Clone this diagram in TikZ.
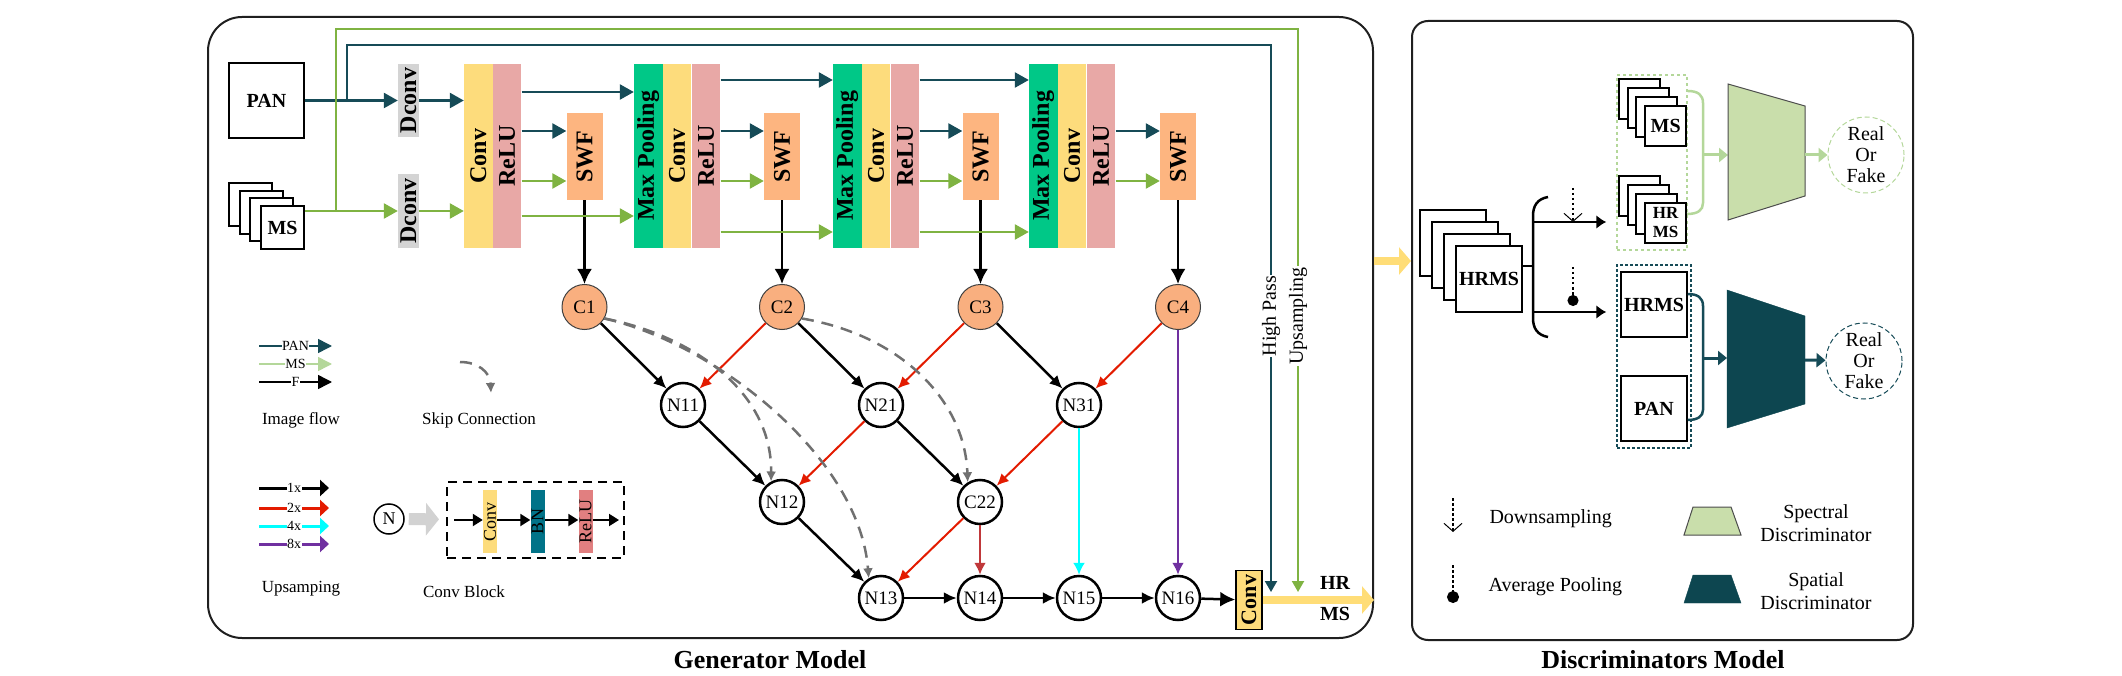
\documentclass[tikz,border=0pt]{standalone}
\usepackage{fontspec}
\setmainfont{Liberation Serif}
\usepackage{graphicx}
\usepackage{tikz}
\usepackage{xcolor}
\usetikzlibrary{arrows.meta, positioning, calc}

\definecolor{panT}{HTML}{164B57}
\definecolor{msG}{HTML}{7FB342}
\definecolor{msL}{HTML}{B4D79A}
\definecolor{convY}{HTML}{FDDC7C}
\definecolor{reluP}{HTML}{E8A8A6}
\definecolor{poolG}{HTML}{00C887}
\definecolor{swfO}{HTML}{FDB580}
\definecolor{cnodeO}{HTML}{F9AF7F}
\definecolor{dconvG}{HTML}{D4D4D4}
\definecolor{bnT}{HTML}{017388}
\definecolor{cbRelu}{HTML}{E17F80}
\definecolor{upRed}{HTML}{E31B00}
\definecolor{upDRed}{HTML}{C0383A}
\definecolor{upCyan}{HTML}{00FFFF}
\definecolor{upPurp}{HTML}{7030A0}
\definecolor{outY}{HTML}{FFDD77}
\definecolor{skipG}{HTML}{707070}
\definecolor{specG}{HTML}{C9DEAB}
\definecolor{spatT}{HTML}{0D4650}

\newcommand{\pxfont}[1]{\fontsize{#1}{#1}\selectfont}

\tikzset{
  frame/.style={draw=black!88, line width=2, inner sep=0},
  title/.style={font={\bfseries\pxfont{26}}},
  sheet/.style={draw, fill=white, line width=2, inner sep=0},
  panflow/.style={panT, line width=2.5, -{Triangle[length=14pt,width=15pt]}},
  msflow/.style={msG, line width=2.5, -{Triangle[length=14pt,width=15pt]}},
  colbox/.style={minimum width=28.5, minimum height=184, inner sep=0, font={\bfseries\pxfont{24}}},
  convcol/.style={colbox, fill=convY},
  relucol/.style={colbox, fill=reluP},
  poolcol/.style={colbox, fill=poolG},
  swfbox/.style={fill=swfO, minimum width=36, minimum height=87, inner sep=0, font={\bfseries\pxfont{24}}},
  dconvbox/.style={fill=dconvG, minimum width=21, inner sep=0, font={\bfseries\pxfont{24}}},
  cnode/.style={circle, draw=black!75, line width=1, fill=cnodeO, minimum size=45, inner sep=0, font=\pxfont{19}},
  nnode/.style={circle, draw, line width=2.5, fill=white, minimum size=44, inner sep=0, font=\pxfont{19}},
  farrow/.style={black, line width=2.5, -{Latex[length=15pt,width=15pt]}},
  fedge/.style={black, line width=2.5, -{Latex[length=13pt,width=12pt]}},
  redge/.style={upRed, line width=2, -{Latex[length=12pt,width=11pt]}},
  skipline/.style={skipG, line width=2.5, dash pattern=on 12pt off 8pt, -{Latex[length=10pt,width=10pt]}},
  yarrow/.style={outY, line width=8, -{Triangle[length=12pt,width=27pt]}},
  vlabel/.style={rotate=90, fill=white, inner sep=1, font=\pxfont{20}},
  legtext/.style={font=\pxfont{17}},
  leglab/.style={fill=white, text=black, inner sep=0.5, font=\pxfont{14}},
  cbcol/.style={minimum width=14, minimum height=63, inner sep=0, font=\pxfont{18}},
  cbarrow/.style={black, line width=2, -{Triangle[length=10pt,width=12pt]}},
  darrow/.style={black, line width=2.5, -{Latex[length=10pt,width=14pt]}},
  dotline/.style={black, line width=1.5, dash pattern=on 2.5pt off 2.5pt},
  rof/.style={circle, line width=1, dash pattern=on 5pt off 3pt, minimum size=76, inner sep=0, align=center, font={\fontsize{20}{21}\selectfont}},
  dtxt/.style={font=\pxfont{20}}
}

\begin{document}
\begin{tikzpicture}[x=1pt, y=-1pt]
\useasboundingbox (0,0) rectangle (2122,676);

% frames and titles
\node[frame, rounded corners=34, minimum width=1165, minimum height=621] (gen) at (790.5,327.5) {};
\node[frame, rounded corners=16, minimum width=501, minimum height=619] (disc) at (1662.5,330.5) {};
\node[title] (genT) at (770,660) {Generator Model};
\node[title] (discT) at (1663,660) {Discriminators Model};

% inputs
\node[sheet, minimum size=75, font={\bfseries\pxfont{20}}] (pan) at (266.5,100.5) {PAN};
\foreach \idx in {0,1,2}
  \node[sheet, minimum size=43] (msS\idx) at ({250.5+10.7*\idx},{204.5+7.7*\idx}) {};
\node[sheet, minimum size=43, font={\bfseries\pxfont{20}}] (ms) at (282.6,227.6) {MS};

\node[dconvbox, minimum height=73] (dconvA) at (408.5,100.5) {\rotatebox{90}{Dconv}};
\node[dconvbox, minimum height=74] (dconvB) at (408.5,211) {\rotatebox{90}{Dconv}};

% encoder blocks
\node[convcol] (conv1) at (478.25,156) {\rotatebox{90}{Conv}};
\node[relucol, right=0pt of conv1] (relu1) {\rotatebox{90}{ReLU}};
\foreach \idx/\x in {2/648.25,3/847.25,4/1043.25} {
  \node[poolcol] (pool\idx) at (\x,156) {\rotatebox{90}{Max Pooling}};
  \node[convcol, right=0pt of pool\idx] (conv\idx) {\rotatebox{90}{Conv}};
  \node[relucol, right=0pt of conv\idx] (relu\idx) {\rotatebox{90}{ReLU}};
}

\coordinate (rowP1) at (0,92);
\coordinate (rowP) at (0,80);
\coordinate (rowPs) at (0,131);
\coordinate (rowMs) at (0,181);
\coordinate (rowM1) at (0,216);
\coordinate (rowM) at (0,232);

% SWF and C nodes
\foreach \idx/\x in {1/584.5,2/782,3/980.5,4/1178} {
  \node[swfbox] (swf\idx) at (\x,156.5) {\rotatebox{90}{SWF}};
  \node[cnode] (c\idx) at (\x,307) {C\idx};
  \draw[farrow] (swf\idx) -- (c\idx);
  \draw[panflow] (relu\idx.east |- rowPs) -- (swf\idx.west |- rowPs);
  \draw[msflow] (relu\idx.east |- rowMs) -- (swf\idx.west |- rowMs);
}

\draw[panflow] (pan.east) -- (dconvA.west);
\draw[msflow] (ms.east |- dconvB) -- (dconvB.west);
\draw[panflow] (dconvA.east) -- (conv1.west |- dconvA);
\draw[msflow] (dconvB.east) -- (conv1.west |- dconvB);
\draw[panflow] (relu1.east |- rowP1) -- (pool2.west |- rowP1);
\draw[msflow] (relu1.east |- rowM1) -- (pool2.west |- rowM1);
\draw[panflow] (relu2.east |- rowP) -- (pool3.west |- rowP);
\draw[msflow] (relu2.east |- rowM) -- (pool3.west |- rowM);
\draw[panflow] (relu3.east |- rowP) -- (pool4.west |- rowP);
\draw[msflow] (relu3.east |- rowM) -- (pool4.west |- rowM);

% decoder nodes
\node[nnode] (n11) at (683,405) {N11};
\node[nnode] (n21) at (881,405) {N21};
\node[nnode] (n31) at (1079,405) {N31};
\node[nnode] (n12) at (782,502) {N12};
\node[nnode] (c22) at (980,502) {C22};
\node[nnode] (n13) at (881,598) {N13};
\node[nnode] (n14) at (980,598) {N14};
\node[nnode] (n15) at (1079,598) {N15};
\node[nnode] (n16) at (1178,598) {N16};
\node[draw, line width=1.5, fill=convY, minimum width=26, minimum height=59, inner sep=0, font={\bfseries\pxfont{22}}] (finconv) at (1249,600) {\rotatebox{90}{Conv}};

\draw[fedge] (c1) -- (n11);
\draw[redge] (c2) -- (n11);
\draw[fedge] (c2) -- (n21);
\draw[redge] (c3) -- (n21);
\draw[fedge] (c3) -- (n31);
\draw[redge] (c4) -- (n31);
\draw[upPurp, line width=2.5, -{Latex[length=12pt,width=12pt]}] (c4) -- (n16);
\draw[fedge] (n11) -- (n12);
\draw[redge] (n21) -- (n12);
\draw[fedge] (n21) -- (c22);
\draw[redge] (n31) -- (c22);
\draw[upCyan, line width=2, -{Latex[length=12pt,width=12pt]}] (n31) -- (n15);
\draw[fedge] (n12) -- (n13);
\draw[redge] (c22) -- (n13);
\draw[upDRed, line width=2.5, -{Latex[length=12pt,width=12pt]}] (c22) -- (n14);
\draw[fedge] (n13) -- (n14);
\draw[fedge] (n14) -- (n15);
\draw[fedge] (n15) -- (n16);
\draw[farrow] (n16) -- (finconv);

% skip connections
\draw[skipline] (c1.-30) .. controls (690,335) and (772,390) .. (n12.118);
\draw[skipline] (c1.-30) .. controls (720,345) and (860,460) .. (n13.122);
\draw[skipline] (c2.-30) .. controls (900,335) and (965,400) .. (c22.122);

% output
\draw[yarrow] (finconv.east) -- (finconv.east -| gen.east);
\node[font={\bfseries\pxfont{20}}] (hrT) at (1335,583) {HR};
\node[font={\bfseries\pxfont{20}}] (msT) at (1335,614) {MS};

\coordinate (panfork) at (347,100.5);
\coordinate (msfork) at (336,211);
\coordinate (hpEnd) at (1271,592);
\coordinate (upEnd) at (1298,592);
\draw[msG, line width=2, -{Triangle[length=11pt,width=12pt]}] (msfork) -- ++(0,-182) -| (upEnd);
\draw[panT, line width=2, -{Triangle[length=11pt,width=12pt]}] (panfork) -- ++(0,-55.5) -| (hpEnd);
\node[vlabel] (hp) at (1271,316) {High Pass};
\node[vlabel] (ups) at (1298,316) {Upsampling};

% legend: image flow
\foreach \y/\col/\txt [count=\idx] in {346/panT/PAN,364/msL/MS,382/black/F} {
  \coordinate (lgf\idx) at (259,\y);
  \draw[\col, line width=1.5, -{Triangle[length=14pt,width=14pt]}] (lgf\idx) -- node[leglab] (lgt\idx) {\txt} ++(73,0);
}
\node[legtext] (lgImg) at (301,420) {Image flow};

% legend: skip connection
\coordinate (skA) at (460,362);
\coordinate (skB) at (491,393);
\draw[skipline] (skA) .. controls (478,362) and (490,372) .. (skB);
\node[legtext] (lgSkip) at (479,420) {Skip Connection};

% legend: upsampling
\foreach \y/\col/\txt [count=\idx] in {488/black/1x,508/upRed/2x,526/upCyan/4x,544/upPurp/8x} {
  \coordinate (lgu\idx) at (259,\y);
  \draw[\col, line width=3, -{Triangle[length=9pt,width=16pt]}] (lgu\idx) -- node[leglab] (lgut\idx) {\txt} ++(70,0);
}
\node[legtext] (lgUp) at (301,589) {Upsamping};

% legend: conv block
\node[circle, draw, line width=1.5, minimum size=30, inner sep=0, font=\pxfont{18}] (nleg) at (389,519) {N};
\node[draw, line width=2, dash pattern=on 9pt off 6pt, minimum width=177, minimum height=76, inner sep=0] (cblk) at (535.5,520) {};
\draw[gray!35, line width=12, -{Triangle[length=13pt,width=32pt]}, shorten <=4pt, shorten >=7pt] (nleg) -- (cblk);
\node[cbcol, fill=convY] (cbConv) at (490,521.5) {\rotatebox{90}{Conv}};
\node[cbcol, fill=bnT] (cbBN) at (537.5,521.5) {\rotatebox{90}{BN}};
\node[cbcol, fill=cbRelu] (cbReLU) at (585.5,521.5) {\rotatebox{90}{ReLU}};
\coordinate (cbIn) at (454,520);
\coordinate (cbOut) at (619,520);
\draw[cbarrow] (cbIn) -- (cbConv.west |- cbIn);
\draw[cbarrow] (cbConv.east |- cbIn) -- (cbBN.west |- cbIn);
\draw[cbarrow] (cbBN.east |- cbIn) -- (cbReLU.west |- cbIn);
\draw[cbarrow] (cbReLU.east |- cbIn) -- (cbOut);
\node[legtext] (lgCb) at (464,592) {Conv Block};

% link to discriminators
\coordinate (linkY) at (0,261);
\draw[yarrow] (gen.east |- linkY) -- (disc.west |- linkY);

% discriminator inputs
\foreach \idx in {0,1,2}
  \node[sheet, minimum size=66] (hrS\idx) at ({1453+12*\idx},{243+12*\idx}) {};
\node[sheet, minimum size=66, font={\bfseries\pxfont{20}}] (hrms) at (1489,279) {HRMS};

\coordinate (barM) at (1533,266);
\coordinate (barT) at (1533,222);
\coordinate (barB) at (1533,312);
\draw[line width=2.5] (1548,197) .. controls (1537,199) and (1533,206) .. (1533,216) -- (1533,318) .. controls (1533,328) and (1537,335) .. (1548,337);
\draw[line width=2.5] (hrms.east |- barM) -- (barM);

\node[draw=msL, line width=1.5, dash pattern=on 3pt off 3pt, minimum width=70, minimum height=175, inner sep=0] (grnbox) at (1652,162.5) {};
\node[draw=panT, line width=1.5, dash pattern=on 3pt off 2pt, minimum width=74, minimum height=183, inner sep=0] (tealbox) at (1654,356.5) {};

\draw[darrow, shorten >=10pt] (barT) -- (grnbox.west |- barT);
\draw[darrow, shorten >=10pt] (barB) -- (tealbox.west |- barB);

\coordinate (dsTop) at (1573,188);
\draw[dotline, -{Straight Barb[length=8pt,width=18pt,line width=1pt]}] (dsTop) -- (dsTop |- barT);
\coordinate (apTop) at (1573,267);
\draw[dotline, -{Circle[length=11pt]}] (apTop) -- ++(0,39);

\foreach \idx in {0,1,2}
  \node[sheet, minimum width=41, minimum height=40] (smS\idx) at ({1639.5+8.7*\idx},{99+9*\idx}) {};
\node[sheet, minimum width=41, minimum height=40, font={\bfseries\pxfont{20}}] (sms) at (1665.6,126) {MS};
\foreach \idx in {0,1,2}
  \node[sheet, minimum width=41, minimum height=40] (hmS\idx) at ({1639.5+8.7*\idx},{196+9*\idx}) {};
\node[sheet, minimum width=41, minimum height=40, align=center, font={\bfseries\fontsize{17}{19}\selectfont}] (shr) at (1665.6,223) {HR\\MS};

\node[sheet, minimum size=65.5, font={\bfseries\pxfont{20}}] (dhrms) at (1654,304.5) {HRMS};
\node[sheet, minimum size=65.5, font={\bfseries\pxfont{20}}] (dpan) at (1654,408.5) {PAN};

% spectral branch
\draw[msL, line width=2.5] (grnbox.east |- 0,91) .. controls (1698,91) and (1703,95) .. (1703,103) -- (1703,203) .. controls (1703,210) and (1698,214) .. (1687,214);
\coordinate (gbrk) at (1703,155);
\coordinate (specL) at (1728,155);
\coordinate (specR) at (1805,155);
\draw[msL, line width=3, -{Triangle[length=9pt,width=14pt]}] (gbrk) -- (specL);
\filldraw[fill=specG, draw=black!70, line width=1] (1728,84) -- (1805,106) -- (1805,196) -- (1728,220) -- cycle;
\node[rof, draw=msL] (rofA) at (1866,155) {Real\\Or\\Fake};
\draw[msL, line width=3, -{Triangle[length=9pt,width=14pt]}] (specR) -- (rofA);

% spatial branch
\draw[panT, line width=2.5] (dhrms.east |- 0,294) .. controls (1698,294) and (1703,298) .. (1703,306) -- (1703,410) .. controls (1703,416) and (1698,420) .. (dpan.east |- 0,420);
\coordinate (tbrk) at (1703,358);
\coordinate (spatL) at (1727,358);
\coordinate (spatR) at (1805,360);
\draw[panT, line width=3, -{Triangle[length=9pt,width=14pt]}] (tbrk) -- (spatL);
\filldraw[fill=spatT, draw=spatT] (1727,290) -- (1805,316) -- (1805,404) -- (1727,428) -- cycle;
\node[rof, draw=panT] (rofB) at (1864,361) {Real\\Or\\Fake};
\draw[panT, line width=3, -{Triangle[length=9pt,width=14pt]}] (spatR) -- (rofB);

% discriminator legend
\coordinate (lgDs) at (1453,498);
\draw[dotline, -{Straight Barb[length=8pt,width=18pt,line width=1pt]}] (lgDs) -- ++(0,34);
\node[dtxt, anchor=west] (lgDsT) at (1486,519) {Downsampling};
\coordinate (lgAp) at (1453,565);
\draw[dotline, -{Circle[length=12pt]}] (lgAp) -- ++(0,38);
\node[dtxt, anchor=west] (lgApT) at (1485,587) {Average Pooling};
\filldraw[fill=specG, draw=black!70, line width=1] (1684,535) -- (1693,507) -- (1731,507) -- (1741,535) -- cycle;
\filldraw[fill=spatT, draw=spatT] (1684,603) -- (1693,575) -- (1731,575) -- (1741,603) -- cycle;
\node[align=center, font={\fontsize{20}{23}\selectfont}] (lgSpec) at (1816,523) {Spectral\\Discriminator};
\node[align=center, font={\fontsize{20}{23}\selectfont}] (lgSpat) at (1816,591) {Spatial\\Discriminator};
\end{tikzpicture}
\end{document}
